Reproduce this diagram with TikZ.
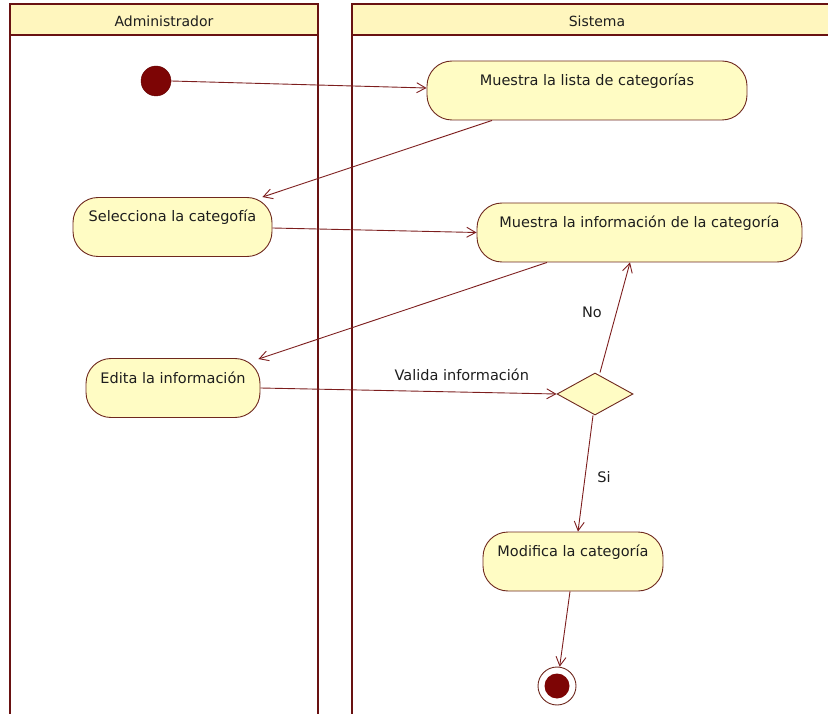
\documentclass[tikz,border=0pt]{standalone}
\usepackage{fontspec}
\setmainfont{DejaVu Sans}
\usetikzlibrary{shapes.geometric,arrows.meta,calc}
\definecolor{lanecol}{RGB}{105,18,18}
\definecolor{edgecol}{RGB}{125,30,30}
\definecolor{nodecol}{RGB}{110,40,30}
\definecolor{nodefill}{RGB}{255,252,196}
\definecolor{headfill}{RGB}{255,246,190}
\definecolor{initcol}{RGB}{125,5,5}
\definecolor{txtcol}{RGB}{30,30,30}
\begin{document}
\begin{tikzpicture}[x=1pt,y=-1pt,
  font=\fontsize{14.5}{16}\selectfont,
  act/.style={draw=nodecol, fill=nodefill, line width=0.9pt, rectangle,
    rounded corners=25pt, minimum height=59pt, inner xsep=0pt, inner ysep=0pt,
    text height=10.5pt, text depth=20.5pt, text=txtcol},
  flow/.style={draw=edgecol, line width=0.9pt, -{Straight Barb[length=9pt,width=10pt]}},
  lbl/.style={text=txtcol, inner sep=0pt},
  lane/.style={draw=lanecol, line width=2.5pt},
  headbox/.style={lane, fill=headfill}]
\useasboundingbox (0,0) rectangle (828,714);
\clip (0,0) rectangle (828,714);
% swimlanes
\draw[lane] (10,4) rectangle (318,740);
\draw[headbox] (10,4) rectangle (318,35);
\node[lbl, font=\fontsize{14}{16}\selectfont] (hadm) at (164,21) {Administrador};
\draw[lane] (352,4) rectangle (842,740);
\draw[headbox] (352,4) rectangle (842,35);
\node[lbl, font=\fontsize{14}{16}\selectfont] (hsis) at (597,21) {Sistema};
% nodes
\node[circle, fill=initcol, draw=initcol!80!black, minimum size=30pt, inner sep=0pt] (ini) at (156,81) {};
\node[act, minimum width=320pt] (lista) at (587,90.5) {Muestra la lista de categorías};
\node[act, minimum width=199pt] (sel) at (172.5,227) {Selecciona la categofía};
\node[act, minimum width=325pt] (info) at (639.5,232.5) {Muestra la información de la categoría};
\node[act, minimum width=174pt] (edita) at (173,388) {Edita la información};
\node[diamond, draw=nodecol, fill=nodefill, line width=0.9pt, minimum width=76pt, minimum height=42pt, inner sep=0pt] (dec) at (595,394) {};
\node[act, minimum width=180pt] (modif) at (573,561.5) {Modifica la categoría};
\node[circle, draw=nodecol, line width=0.9pt, minimum size=38pt, inner sep=0pt] (fin) at (557,686) {};
\fill[initcol] (fin.center) circle (12.5pt);
% edges
\draw[flow] (ini.east) -- ([yshift=2.5pt]lista.west);
\draw[flow] ([xshift=-95pt]lista.south) -- ([xshift=-10pt]sel.north east);
\draw[flow] ([yshift=-1pt]sel.east) -- (info.west);
\draw[flow] ([xshift=-92.5pt]info.south) -- ([xshift=-2pt,yshift=-1pt]edita.north east);
\draw[flow] (edita.east) -- (dec.west)
  node[lbl, pos=0.68, yshift=17pt] {Valida información};
\draw[flow] ([xshift=5pt]dec.north) -- ([xshift=-9.5pt]info.south)
  node[lbl, midway, xshift=-23pt, yshift=5pt] {No};
\draw[flow] ([xshift=-2pt]dec.south) -- ([xshift=5pt]modif.north)
  node[lbl, midway, xshift=18.5pt, yshift=-3.5pt] {Si};
\draw[flow] ([xshift=-3pt]modif.south) -- (fin);
\end{tikzpicture}
\end{document}
